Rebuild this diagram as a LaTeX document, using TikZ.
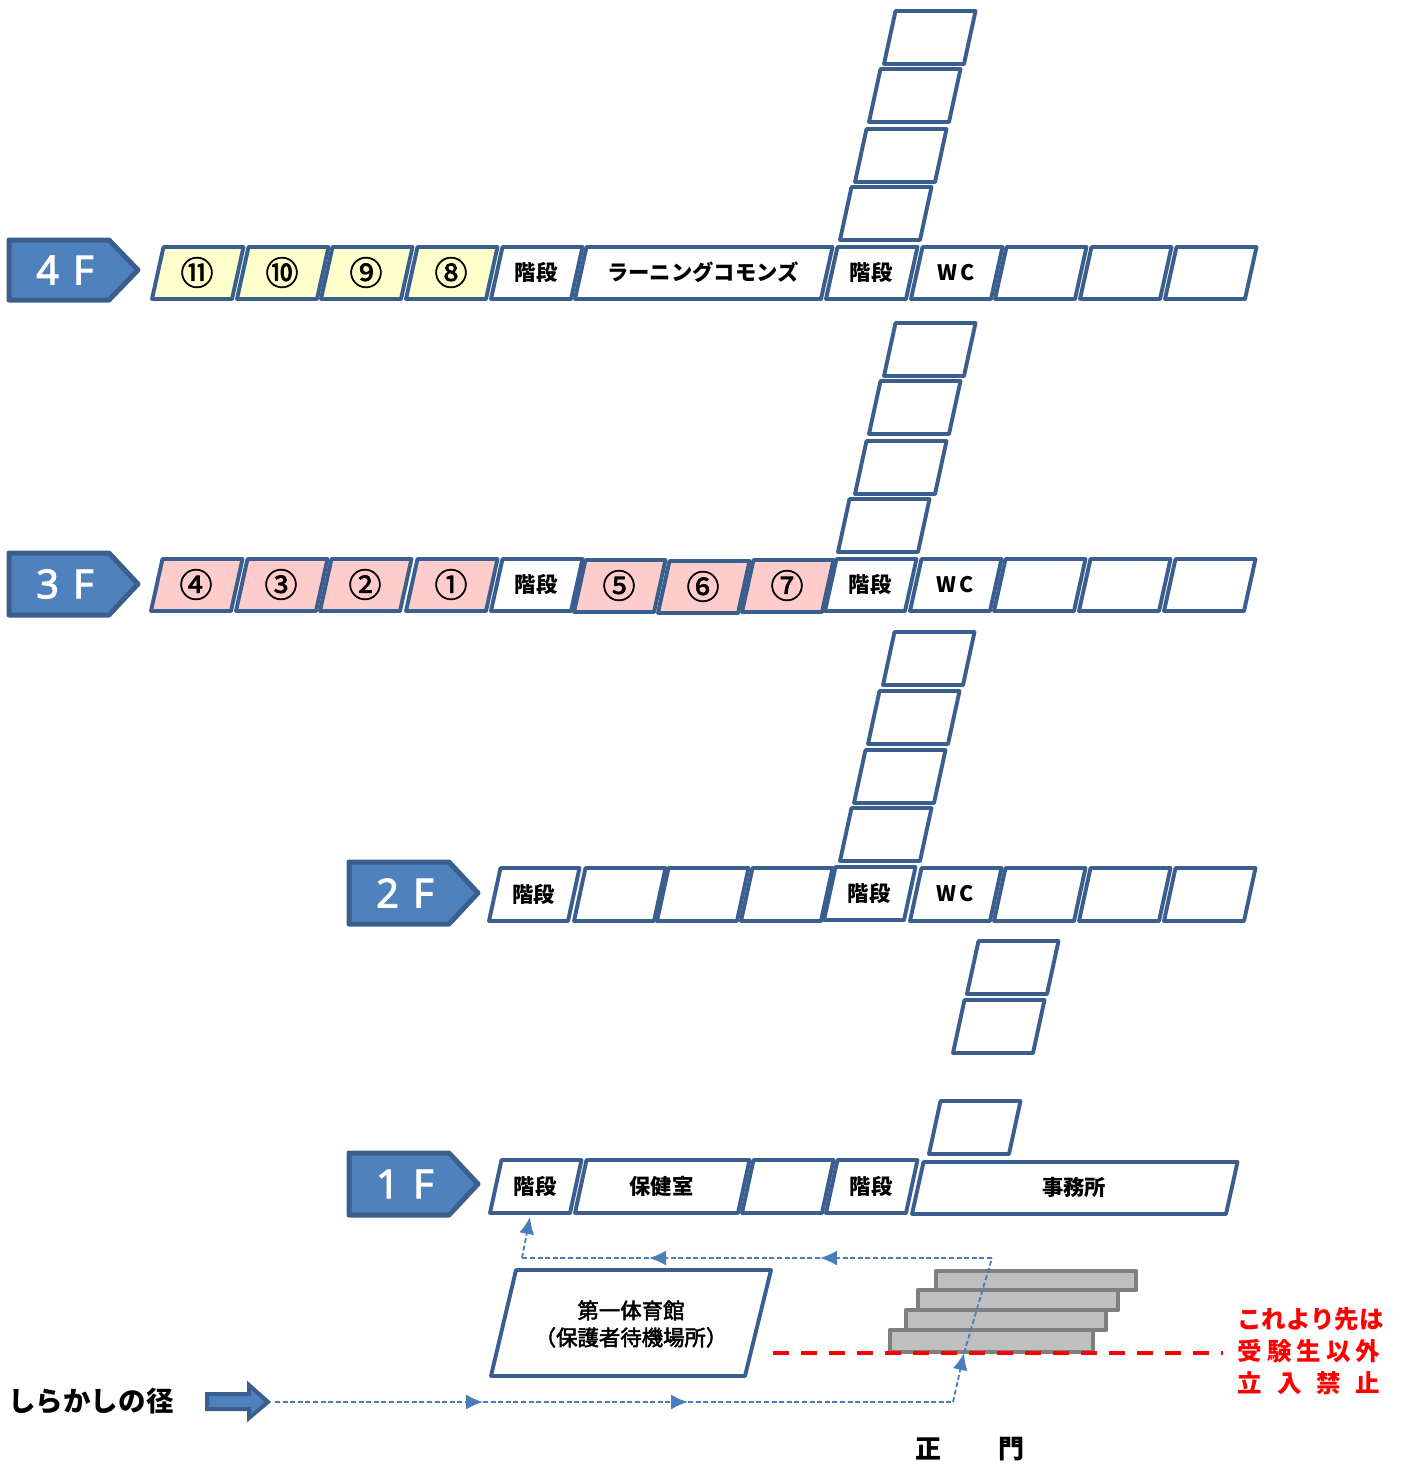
\documentclass[tikz,border=0pt]{standalone}
\usepackage{fontspec}
\usetikzlibrary{arrows.meta}
\setmainfont{Noto Sans CJK JP}
\newfontfamily\jpgym[FakeBold=2.4]{Noto Sans CJK JP}
\newfontfamily\jplight[FakeBold=2.0]{Noto Sans CJK JP}
\newfontfamily\latinfl[FakeBold=2.2]{Noto Sans}
\definecolor{blueline}{HTML}{3A5F8E}
\definecolor{bluefill}{HTML}{4F81BD}
\definecolor{pathblue}{HTML}{4A7EBB}
\definecolor{yellowfill}{HTML}{FFFFCC}
\definecolor{pinkfill}{HTML}{FFCCCC}
\definecolor{greyline}{HTML}{7F7F7F}
\definecolor{greyfill}{HTML}{BFBFBF}
\tikzset{
  roomline/.style={draw=blueline,line width=3.9pt,line join=round},
  roomtext/.style={font=\fontsize{21.3}{25}\selectfont\bfseries,inner sep=0pt,text=black},
  circled/.style={font=\fontsize{33}{36}\selectfont\jplight,inner sep=0pt,text=black},
  floorbox/.style={draw=blueline,fill=bluefill,line width=5pt,line join=round},
  floortext/.style={font=\fontsize{40}{42}\selectfont\latinfl,text=white,inner sep=0pt},
  stairbar/.style={draw=greyline,fill=greyfill,line width=4.8pt,line join=round},
  walk/.style={draw=pathblue,line width=1.8pt,dash pattern=on 5pt off 2.6pt},
  walktip/.style={walk,-{Latex[length=17pt,width=15pt,fill=pathblue]}},
}
% room: name, bottom-left x, top y, bottom y, width, fill, label, style
\newcommand{\room}[8][roomtext]{%
  \path[roomline,fill=#6] (#3,#5) -- (#3+11.5,#4) -- (#3+#2+11.5,#4) -- (#3+#2,#5) -- cycle;
  \node[#1] (#7) at ({#3+#2/2+5},{(#4+#5)/2-0.5}) {#8};}
\newcommand{\floorlabel}[6]{%
  \path[floorbox] (#2,#4) -- (#2+100,#4) -- (#2+129,{(#4+#5)/2}) -- (#2+100,#5) -- (#2,#5) -- cycle;
  \node[floortext] (#1) at (#2+56,{(#4+#5)/2}) {#6};}
\begin{document}
\begin{tikzpicture}[x=1pt,y=-1pt]
\useasboundingbox (0,0) rectangle (1401,1464);
% 4F
\floorlabel{f4}{9}{}{240}{300}{4\kern14pt F}
\room[circled]{80}{152}{247}{299}{yellowfill}{r411}{⑪}
\room[circled]{80}{237}{247}{299}{yellowfill}{r410}{⑩}
\room[circled]{80}{321}{247}{299}{yellowfill}{r409}{⑨}
\room[circled]{80}{406}{247}{299}{yellowfill}{r408}{⑧}
\room{80}{491}{247}{299}{white}{s4a}{階段}
\room{246}{575}{247}{299}{white}{lc4}{ラーニングコモンズ}
\room{80}{826}{247}{299}{white}{s4b}{階段}
\room{80}{911}{247}{299}{white}{wc4}{W\kern3pt C}
\room{80}{995}{247}{299}{white}{e4a}{}
\room{80}{1080}{247}{299}{white}{e4b}{}
\room{80}{1165}{247}{299}{white}{e4c}{}
\room{80}{884}{11}{64}{white}{n4a}{}
\room{80}{869}{69}{122}{white}{n4b}{}
\room{80}{855}{129}{182}{white}{n4c}{}
\room{80}{840}{187}{240}{white}{n4d}{}
% 3F
\floorlabel{f3}{9}{}{553}{615}{3\kern14pt F}
\room[circled]{80}{151}{559}{611}{pinkfill}{r304}{④}
\room[circled]{80}{236}{559}{611}{pinkfill}{r303}{③}
\room[circled]{80}{320}{559}{611}{pinkfill}{r302}{②}
\room[circled]{80}{406}{559}{611}{pinkfill}{r301}{①}
\room{80}{491}{559}{611}{white}{s3a}{階段}
\room[circled]{80}{574}{560}{612}{pinkfill}{r305}{⑤}
\room[circled]{80}{658}{561}{613}{pinkfill}{r306}{⑥}
\room[circled]{80}{742}{560}{612}{pinkfill}{r307}{⑦}
\room{80}{825}{559}{611}{white}{s3b}{階段}
\room{80}{910}{559}{611}{white}{wc3}{W\kern3pt C}
\room{80}{994}{559}{611}{white}{e3a}{}
\room{80}{1079}{559}{611}{white}{e3b}{}
\room{80}{1164}{559}{611}{white}{e3c}{}
\room{80}{884}{323}{376}{white}{n3a}{}
\room{80}{869}{381}{434}{white}{n3b}{}
\room{80}{855}{441}{494}{white}{n3c}{}
\room{80}{838}{499}{552}{white}{n3d}{}
% 2F
\floorlabel{f2}{349}{}{862}{924}{2\kern14pt F}
\room{79}{489}{868}{921}{white}{s2a}{階段}
\room{80}{574}{868}{921}{white}{r2a}{}
\room{80}{657}{868}{921}{white}{r2b}{}
\room{80}{741}{868}{921}{white}{r2c}{}
\room{80}{824}{867}{920}{white}{s2b}{階段}
\room{80}{910}{868}{921}{white}{wc2}{W\kern3pt C}
\room{80}{994}{868}{921}{white}{e2a}{}
\room{80}{1079}{868}{921}{white}{e2b}{}
\room{80}{1164}{868}{921}{white}{e2c}{}
\room{80}{883}{632}{685}{white}{n2a}{}
\room{80}{868}{691}{744}{white}{n2b}{}
\room{80}{854}{750}{803}{white}{n2c}{}
\room{80}{840}{808}{861}{white}{n2d}{}
% 1F
\floorlabel{f1}{349}{}{1153}{1215}{1\kern14pt F}
\room{80}{490}{1160}{1213}{white}{s1a}{階段}
\room{163}{575}{1160}{1213}{white}{hoken}{保健室}
\room{80}{742}{1160}{1213}{white}{r1a}{}
\room{80}{826}{1160}{1213}{white}{s1b}{階段}
\room{314}{912}{1162}{1214}{white}{jimu}{事務所}
\room{80}{929}{1101}{1154}{white}{n1c}{}
\room{80}{967}{941}{994}{white}{n1a}{}
\room{80}{953}{1000}{1053}{white}{n1b}{}
% gymnasium
\path[roomline,fill=white] (491,1376) -- (516,1270) -- (771,1270) -- (745,1376) -- cycle;
\node[font=\fontsize{21.4}{27}\selectfont\jpgym,align=center,inner sep=0pt,text=black] (gym) at (631,1324) {第一体育館\\（保護者待機場所）};
% steps
\path[stairbar] (936,1271) rectangle (1136,1290);
\path[stairbar] (918,1290) rectangle (1118,1310);
\path[stairbar] (906,1310) rectangle (1106,1330);
\path[stairbar] (890,1330) rectangle (1093,1352);
% no-entry line
\coordinate (noa) at (773,1353);
\coordinate (nob) at (1223,1353);
\draw[red,line width=3.4pt,dash pattern=on 16pt off 12pt] (noa) -- (nob);
\node[font=\fontsize{24.5}{32}\selectfont\bfseries,text=red,align=center,inner sep=0pt] (noentry) at (1309,1351)
  {\kern3pt これより先は\\受\kern5pt 験\kern5pt 生\kern5pt 以\kern5pt 外\\立\kern15pt 入\kern15pt 禁\kern15pt 止};
% outside arrow
\path[floorbox,line width=4pt,line join=miter] (207,1394) -- (249,1394) -- (249,1385) -- (268,1402) -- (249,1418) -- (249,1409) -- (207,1409) -- cycle;
\node[font=\fontsize{27.5}{30}\selectfont\bfseries,inner sep=0pt,text=black] (shira) at (91,1401) {しらかしの径};
\node[font=\fontsize{26}{30}\selectfont\bfseries,inner sep=0pt,text=black] (seimon) at (970,1449) {正\kern58pt 門};
% walking route
\coordinate (w0) at (275,1402);
\coordinate (w1) at (483,1402);
\coordinate (w2) at (688,1402);
\coordinate (w3) at (953,1402);
\coordinate (w4) at (964,1353);
\coordinate (w5) at (992,1258);
\coordinate (w6) at (820,1258);
\coordinate (w7) at (649,1258);
\coordinate (w8) at (522,1258);
\coordinate (w9) at (530,1217);
\draw[walktip] (w0) -- (w1);
\draw[walktip] (w1) -- (w2);
\draw[walk] (w2) -- (w3);
\draw[walktip] (w3) -- (w4);
\draw[walk] (w4) -- (w5);
\draw[walktip] (w5) -- (w6);
\draw[walktip] (w6) -- (w7);
\draw[walk] (w7) -- (w8);
\draw[walktip] (w8) -- (w9);
\end{tikzpicture}
\end{document}
